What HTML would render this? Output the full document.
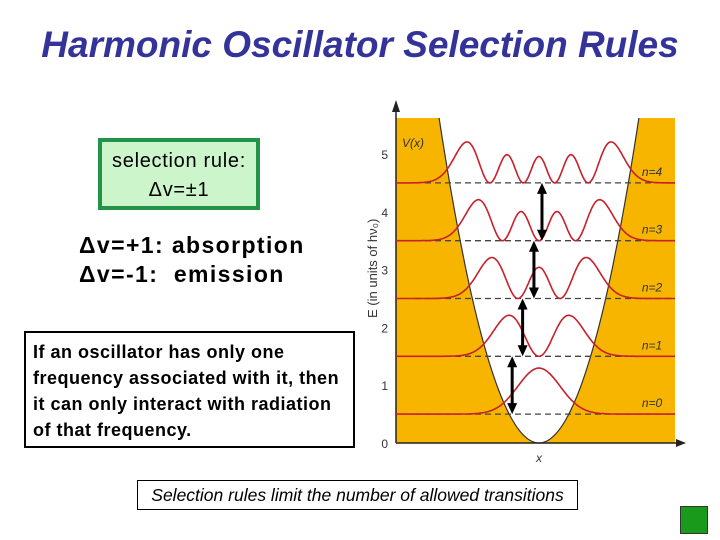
<!DOCTYPE html>
<html><head><meta charset="utf-8"><style>
body{margin:0;width:720px;height:540px;background:#fff;position:relative;overflow:hidden;font-family:"Liberation Sans",sans-serif}
.abs{position:absolute}
</style></head><body>
<div class="abs" style="left:0;top:24px;width:720px;text-align:center;font-size:37px;font-style:italic;font-weight:bold;color:#333399">Harmonic Oscillator Selection Rules</div>
<div class="abs" style="left:98px;top:138px;width:154px;border:4px solid #23934a;background:#ccf5cc;text-align:center;font-size:20px;line-height:29px;padding-top:5px;height:59px;letter-spacing:0.7px;white-space:nowrap">selection rule:<br>&Delta;v=&plusmn;1</div>
<div class="abs" style="left:79px;top:231px;font-size:23px;font-weight:bold;line-height:29px;white-space:pre;letter-spacing:1.4px">&Delta;v=+1: absorption
&Delta;v=-1:  emission</div>
<div class="abs" style="left:24px;top:331px;width:331px;height:117px;border:2px solid #000;font-size:18px;font-weight:bold;line-height:26px;padding:6px 0 0 7px;box-sizing:border-box;letter-spacing:0.5px;white-space:nowrap">If an oscillator has only one<br>frequency associated with it, then<br>it can only interact with radiation<br>of that frequency.</div>
<div class="abs" style="left:137px;top:480px;width:441px;height:30px;border:1px solid #000;box-sizing:border-box;font-size:17.5px;font-style:italic;text-align:center;line-height:28px;white-space:nowrap">Selection rules limit the number of allowed transitions</div>
<div class="abs" style="left:680px;top:506px;width:28px;height:28px;background:#1a9a1a;border:1px solid #333;box-sizing:border-box"></div>
<svg class="abs" style="left:0;top:0" width="720" height="540">
<g id="g"></g>
</svg>
<script>
const levels=[0,1,2,3,4];
const levelEnergies=[0.5,1.5,2.5,3.5,4.5];
const yTicks=[0,1,2,3,4,5];
const arrowFrom=[0,1,2,3];
const arrowXi=[-0.9,-0.55,-0.17,0.1];
const X0=539,Y0=443,EU=57.8,XS=29.8;
const ex=xi=>X0+xi*XS, ey=E=>Y0-E*EU;
const NS='http://www.w3.org/2000/svg';
const g=document.getElementById('g');
function mk(t,a,parent){const e=document.createElementNS(NS,t);for(const k in a)e.setAttribute(k,a[k]);(parent||g).appendChild(e);return e;}
let bg=mk('rect',{x:396,y:118,width:279,height:Y0-118,fill:'#f7b500'});

const Emax=(Y0-118)/EU;const ximax=Math.sqrt(2*Emax);
let pts=[];for(let i=0;i<=100;i++){const xi=-ximax+2*ximax*i/100;pts.push(ex(xi).toFixed(1)+','+ey(xi*xi/2).toFixed(1));}
let pw=mk('polygon',{points:pts.join(' '),fill:'#fff'});

let pl=mk('polyline',{points:pts.join(' '),fill:'none',stroke:'#333',"stroke-width":1.2});

let ax=mk('line',{x1:396,y1:Y0,x2:680,y2:Y0,stroke:'#222','stroke-width':1.5});

mk('polygon',{points:'686,443 676,439 676,447',fill:'#222'});
let ay=mk('line',{x1:396,y1:Y0,x2:396,y2:108,stroke:'#222','stroke-width':1.5});

mk('polygon',{points:'396,100 392,112 400,112',fill:'#222'});
yTicks.forEach(t=>{let e=mk('text',{x:388,y:ey(t)+5,'font-size':12,'text-anchor':'end',fill:'#333'});e.textContent=t;
});
let yt=mk('text',{x:0,y:0,'font-size':13,fill:'#333',transform:'translate(377,318) rotate(-90)'});
yt.textContent='E (in units of hν₀)';
let xt=mk('text',{x:539,y:462,'font-size':12,'font-style':'italic','text-anchor':'middle',fill:'#333'});xt.textContent='x';

let vx=mk('text',{x:402,y:147,'font-size':12,'font-style':'italic',fill:'#333'});vx.textContent='V(x)';

function herm(n,x){let h0=1,h1=2*x;if(n==0)return h0;for(let k=1;k<n;k++){const h2=2*x*h1-2*k*h0;h0=h1;h1=h2;}return h1;}
const xiL=(396-X0)/XS,xiR=(675-X0)/XS;
levels.forEach((n,i)=>{
 const E=levelEnergies[i],yl=ey(E);
 let d=mk('line',{x1:415,y1:yl,x2:672,y2:yl,stroke:'#444','stroke-width':1.3,'stroke-dasharray':'6,4'});
 
 let vals=[],mx=0;for(let k=0;k<=300;k++){const xi=xiL+(xiR-xiL)*k/300;const h=herm(n,xi);const v=h*h*Math.exp(-xi*xi);vals.push([xi,v]);if(v>mx)mx=v;}
 const amp=n==0?46:41;
 const p=vals.map(([xi,v])=>ex(xi).toFixed(1)+','+(yl-v/mx*amp).toFixed(1)).join(' ');
 let w=mk('polyline',{points:p,fill:'none',stroke:'#c8202a','stroke-width':1.6});
 
 let lb=mk('text',{x:652,y:yl-7,'font-size':12,'font-style':'italic','text-anchor':'middle',fill:'#333'});lb.textContent='n='+n;
 
});
arrowFrom.forEach((n,i)=>{
 const x=ex(arrowXi[i]),y1=ey(levelEnergies[n]),y2=ey(levelEnergies[n+1]);
 let a=mk('g',{});
 mk('line',{x1:x,y1:y1-8,x2:x,y2:y2+8,stroke:'#000','stroke-width':3},a);
 mk('polygon',{points:`${x},${y2} ${x-5},${y2+11} ${x+5},${y2+11}`,fill:'#000'},a);
 mk('polygon',{points:`${x},${y1} ${x-5},${y1-11} ${x+5},${y1-11}`,fill:'#000'},a);
});
</script>
</body></html>
